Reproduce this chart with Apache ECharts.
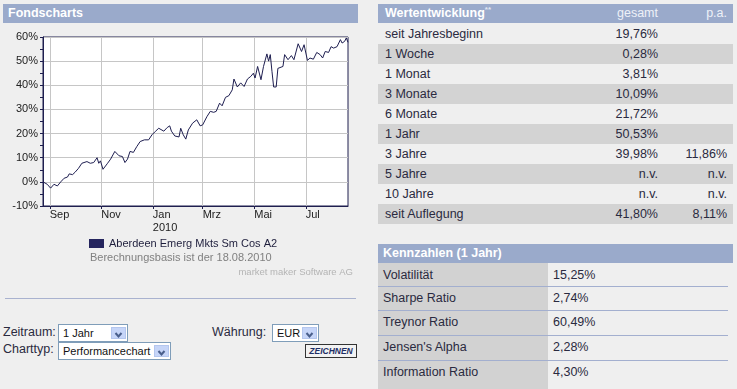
<!DOCTYPE html>
<html>
<head>
<meta charset="utf-8">
<script src="https://cdn.jsdelivr.net/npm/echarts@6/dist/echarts.min.js"></script>
<style>
  html, body { margin:0; padding:0; }
  body { width:737px; height:389px; overflow:hidden; background:#EFEFEF; position:relative;
         font-family:"Liberation Sans", Arial, sans-serif; color:#2a2a40; }
  .abs { position:absolute; }
  .hdr { background:#9AAACB; color:#fff; font-weight:bold; font-size:12.5px; height:19px; line-height:19px; }
  .row { position:absolute; left:378px; width:355px; height:20px; line-height:20px; font-size:12.5px; }
  .row .l { position:absolute; left:7px; }
  .row .g { position:absolute; right:75px; text-align:right; }
  .row .p { position:absolute; right:6px; text-align:right; }
  .dark { background:#D3D3D3; }
  .krow { position:absolute; left:378px; width:350px; font-size:12.5px; }
  .krow .l { position:absolute; left:5px; }
  .krow .v { position:absolute; left:175px; }
  .sep { position:absolute; left:378px; width:350px; height:1px; background:#A3AFCF; }
  .sel { position:absolute; background:#fff; border:1px solid #7F9DB9; box-sizing:border-box; height:18px;
         font-size:11px; line-height:16px; padding-left:4px; color:#111; white-space:nowrap; }
  .btn { position:absolute; top:2px; width:15px; height:12px; background:#C6D5F8; border:1px solid #B4C6EE; box-sizing:border-box; }
  .lbl { position:absolute; font-size:12.5px; color:#2a2a40; }
</style>
</head>
<body>
<!-- left panel -->
<div class="abs hdr" style="left:3px;top:4px;width:355px;"><span style="padding-left:5px;">Fondscharts</span></div>
<div id="chart" class="abs" style="left:0;top:0;width:360px;height:290px;"></div>
<div class="abs" style="left:5px;top:298px;width:351px;height:1px;background:#A9B2CF;"></div>

<div class="lbl" style="left:3px;top:325px;">Zeitraum:</div>
<div class="sel" style="left:58px;top:324px;width:70px;">1 Jahr<div class="btn" style="right:1px;"><svg width="13" height="10"><polyline points="3.5,3 6.5,6.5 9.5,3" fill="none" stroke="#4A5F8C" stroke-width="2"/></svg></div></div>
<div class="lbl" style="left:3px;top:342px;">Charttyp:</div>
<div class="sel" style="left:58px;top:342px;width:113px;">Performancechart<div class="btn" style="right:1px;"><svg width="13" height="10"><polyline points="3.5,3 6.5,6.5 9.5,3" fill="none" stroke="#4A5F8C" stroke-width="2"/></svg></div></div>
<div class="lbl" style="left:212px;top:325px;">Währung:</div>
<div class="sel" style="left:272px;top:324px;width:47px;">EUR<div class="btn" style="right:1px;"><svg width="13" height="10"><polyline points="3.5,3 6.5,6.5 9.5,3" fill="none" stroke="#4A5F8C" stroke-width="2"/></svg></div></div>
<div class="abs" style="left:305px;top:344px;width:52px;height:14px;box-sizing:border-box;border:1px solid #333;background:#F2F2F2;font-size:8.5px;font-weight:bold;font-style:italic;color:#1E2F66;text-align:center;line-height:12px;">ZEICHNEN</div>

<!-- right panel: Wertentwicklung -->
<div class="abs hdr" style="left:378px;top:4px;width:355px;">
  <span style="position:absolute;left:7px;">Wertentwicklung<sup style="font-size:8px;line-height:0;color:#E3E8F3;">**</sup></span>
  <span style="position:absolute;right:75px;font-weight:normal;color:#EEF1F8;">gesamt</span>
  <span style="position:absolute;right:6px;font-weight:normal;color:#EEF1F8;">p.a.</span>
</div>
<div id="perf"></div>

<!-- Kennzahlen -->
<div class="abs hdr" style="left:378px;top:244px;width:355px;"><span style="padding-left:5px;">Kennzahlen (1 Jahr)</span></div>
<div class="abs" style="left:378px;top:263px;width:170px;height:126px;background:#D2D2D2;"></div>
<div id="kenn"></div>

<script>
// ---- Chart data ----
var dates = ['2009-08-24','2009-08-29','2009-09-02','2009-09-06','2009-09-10','2009-09-14','2009-09-18','2009-09-22','2009-09-24','2009-09-28',
 '2009-10-01','2009-10-05','2009-10-09','2009-10-15','2009-10-19','2009-10-23','2009-10-27','2009-10-29','2009-10-31','2009-11-03',
 '2009-11-08','2009-11-12','2009-11-17','2009-11-22','2009-11-26','2009-11-29','2009-12-02','2009-12-05','2009-12-09','2009-12-13',
 '2009-12-17','2009-12-22','2009-12-27','2009-12-31','2010-01-04','2010-01-08','2010-01-14','2010-01-18','2010-01-21','2010-01-23',
 '2010-01-27','2010-02-01','2010-02-03','2010-02-06','2010-02-09','2010-02-12','2010-02-17','2010-02-22','2010-02-26','2010-03-01',
 '2010-03-06','2010-03-10','2010-03-14','2010-03-17','2010-03-21','2010-03-24','2010-03-28','2010-04-01','2010-04-05','2010-04-07',
 '2010-04-11','2010-04-15','2010-04-19','2010-04-23','2010-04-27','2010-04-30','2010-05-02','2010-05-05','2010-05-07','2010-05-09',
 '2010-05-12','2010-05-16','2010-05-18','2010-05-20','2010-05-22','2010-05-24','2010-05-27','2010-05-29','2010-05-31','2010-06-04',
 '2010-06-06','2010-06-10','2010-06-14','2010-06-17','2010-06-22','2010-06-26','2010-06-29','2010-07-03','2010-07-06','2010-07-10',
 '2010-07-14','2010-07-18','2010-07-21','2010-07-24','2010-07-28','2010-07-31','2010-08-03','2010-08-07','2010-08-11','2010-08-13',
 '2010-08-16','2010-08-18','2010-08-20'];
var performance = [0.0,-1.0,-2.6,-1.0,-1.7,0.0,1.5,2.0,3.3,3.0,
 4.0,5.6,7.7,8.4,7.7,8.0,10.0,7.7,8.7,5.2,
 7.5,9.4,12.6,10.8,10.5,8.0,9.4,12.6,12.2,14.6,
 16.7,17.4,17.4,19.5,20.9,22.2,21.0,22.5,23.2,21.0,
 19.0,18.6,22.2,19.5,17.7,21.5,24.3,25.7,23.2,23.6,
 27.0,29.2,28.8,29.2,32.6,31.5,35.0,35.7,38.1,42.6,
 39.3,41.0,39.5,42.6,43.7,45.0,43.0,47.8,47.0,42.3,
 47.8,53.0,50.0,52.7,45.8,39.3,39.3,47.0,47.0,47.8,
 52.7,50.6,52.3,50.6,57.2,54.0,56.8,50.3,51.3,50.8,
 53.6,52.7,51.3,54.0,53.6,56.0,55.4,56.0,58.9,57.5,
 58.2,59.6,57.8];
var seriesName = 'Aberdeen Emerg Mkts Sm Cos A2';
var xMin = '2009-08-24', xMax = '2010-08-20';
var tickDates = ['2009-09-01','2009-11-01','2010-01-01','2010-03-01','2010-05-01','2010-07-01'];
var tickLabels = ['Sep','Nov','Jan\n2010','Mrz','Mai','Jul'];

// ---- Table data ----
var perfLabels = ['seit Jahresbeginn','1 Woche','1 Monat','3 Monate','6 Monate','1 Jahr','3 Jahre','5 Jahre','10 Jahre','seit Auflegung'];
var perfTotal  = ['19,76%','0,28%','3,81%','10,09%','21,72%','50,53%','39,98%','n.v.','n.v.','41,80%'];
var perfPA     = ['','','','','','','11,86%','n.v.','n.v.','8,11%'];
var kennLabels = ['Volatilität','Sharpe Ratio','Treynor Ratio',"Jensen's Alpha",'Information Ratio'];
var kennValues = ['15,25%','2,74%','60,49%','2,28%','4,30%'];

// build tables
(function(){
  var h = '';
  for (var i = 0; i < perfLabels.length; i++) {
    h += '<div class="row' + (i % 2 ? ' dark' : '') + '" style="top:' + (24 + i * 20) + 'px;">' +
         '<span class="l">' + perfLabels[i] + '</span><span class="g">' + perfTotal[i] + '</span>' +
         '<span class="p">' + perfPA[i] + '</span></div>';
  }
  document.getElementById('perf').innerHTML = h;
  var k = '';
  var tops = [268, 291, 315, 340, 365];
  var seps = [286, 310, 335, 360];
  for (var j = 0; j < kennLabels.length; j++) {
    k += '<div class="krow" style="top:' + tops[j] + 'px;"><span class="l">' + kennLabels[j] +
         '</span><span class="v">' + kennValues[j] + '</span></div>';
  }
  for (var s = 0; s < seps.length; s++) k += '<div class="sep" style="top:' + seps[s] + 'px;"></div>';
  document.getElementById('kenn').innerHTML = k;
})();

var pd = function (s) { var p = s.split('-'); return Date.UTC(+p[0], +p[1] - 1, +p[2]); };
var tickVals = tickDates.map(pd);
var ff = '"Liberation Sans", Arial, sans-serif';
var frame = '#1F1F4F';

var chart = echarts.init(document.getElementById('chart'), null, { renderer: 'canvas' });
chart.setOption({
  animation: false,
  grid: { left: 43, top: 37, width: 305, height: 169, show: true, backgroundColor: '#fff', borderColor: frame, borderWidth: 1 },
  legend: {
    left: 89, top: 238, padding: 0, itemWidth: 15, itemHeight: 9, itemGap: 5, icon: 'rect',
    textStyle: { fontSize: 11, color: '#1E1E3C', fontFamily: ff },
    data: [{ name: seriesName, itemStyle: { color: '#25255E' } }]
  },
  xAxis: {
    type: 'value', min: pd(xMin), max: pd(xMax),
    axisLine: { show: true, onZero: false, lineStyle: { color: frame } },
    axisTick: { show: true, length: 3, customValues: tickVals, lineStyle: { color: frame } },
    axisLabel: {
      customValues: tickVals, align: 'left', margin: 3, fontSize: 11, lineHeight: 12.5, color: '#222', fontFamily: ff,
      showMinLabel: true, showMaxLabel: true,
      formatter: function (v) { var i = tickVals.indexOf(v); return i >= 0 ? tickLabels[i] : ''; }
    },
    splitLine: { show: true, lineStyle: { color: '#C6C6C6' } }
  },
  yAxis: {
    type: 'value', min: -10, max: 60, interval: 10,
    axisLine: { show: true, onZero: false, lineStyle: { color: frame } },
    axisTick: { show: true, length: 3, lineStyle: { color: frame } },
    minorTick: { show: true, splitNumber: 2, length: 3, lineStyle: { color: frame } },
    axisLabel: { formatter: '{value}%', fontSize: 11, margin: 5, color: '#222', fontFamily: ff },
    splitLine: { show: true, lineStyle: { color: '#C6C6C6' } }
  },
  graphic: [
    { type: 'text', left: 90, top: 252, style: { text: 'Berechnungsbasis ist der 18.08.2010', fontSize: 11, fill: '#808080', fontFamily: ff } },
    { type: 'text', right: 7, top: 267, style: { text: 'market maker Software AG', fontSize: 9.5, fill: '#B4B4B4', fontFamily: ff } }
  ],
  series: [{
    name: seriesName, type: 'line', showSymbol: false, symbol: 'none',
    lineStyle: { width: 1, color: '#1E1E50' }, itemStyle: { color: '#25255E' },
    data: dates.map(function (d, i) { return [pd(d), performance[i]]; })
  }]
});
</script>
</body>
</html>
